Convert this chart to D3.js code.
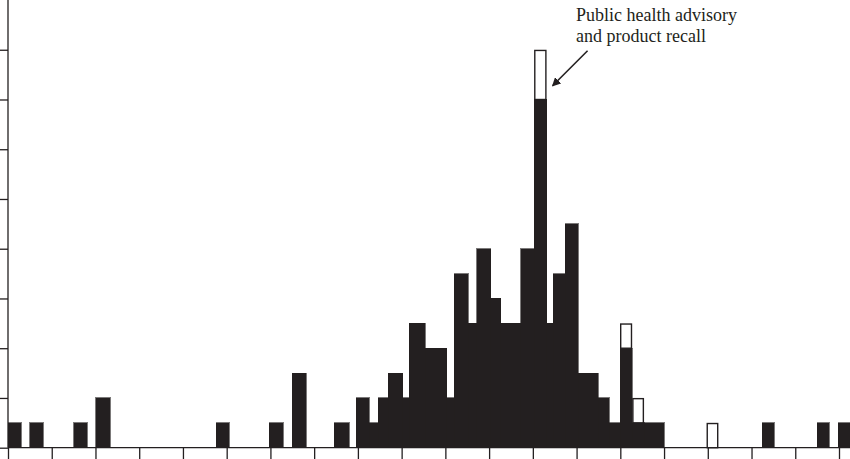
<!DOCTYPE html>
<html>
<head>
<meta charset="utf-8">
<script src="https://cdn.jsdelivr.net/npm/d3@7"></script>
<style>
  html, body { margin: 0; padding: 0; background: #fff; overflow: hidden; }
  svg { display: block; }
</style>
</head>
<body>
<svg id="chart"></svg>
<script>
/* Data (days since first tick) */

// Start and end of each bar, in days
var binStart = [0, 3.5, 10.55, 14.05, 33.3, 41.8, 45.5, 52.2, 55.7, 57.85, 59.25, 60.85,
    63.15, 64.25, 66.75, 70.2, 71.4, 73.65, 75, 77.3, 78.85, 82.05, 84.2, 86.2,
    87.25, 89.15, 91.25, 94.5, 96.25, 97.95, 99.9, 101.8, 111.8, 120.7, 129.5, 132.85];
var binEnd = [2.1, 5.65, 12.7, 16.35, 35.4, 44.05, 47.7, 54.6, 57.85, 59.25, 60.85, 63.15,
    64.25, 66.75, 70.2, 71.4, 73.65, 75, 77.3, 78.85, 82.05, 84.2, 86.2, 87.25,
    89.15, 91.25, 94.5, 96.25, 97.95, 99.9, 101.8, 105, 113.7, 122.65, 131.45, 134.9];
// Cases per bar (black)
var cases = [1, 1, 1, 2, 1, 1, 3, 1, 2, 1, 2, 3,
    2, 5, 4, 2, 7, 5, 8, 6, 5, 8, 14, 5,
    7, 9, 3, 2, 1, 4, 1, 1, 0, 1, 1, 1];
// Additional cases per bar (white, stacked on top)
var extraCases = [0, 0, 0, 0, 0, 0, 0, 0, 0, 0, 0, 0,
    0, 0, 0, 0, 0, 0, 0, 0, 0, 0, 2, 0,
    0, 0, 0, 0, 0, 1, 1, 0, 1, 0, 0, 0];

// Weekly ticks on the x axis, every 2 cases on the y axis
var xTicks = [0, 7, 14, 21, 28, 35, 42, 49, 56, 63, 70, 77, 84, 91, 98, 105, 112, 119, 126, 133];
var yTicks = [0, 2, 4, 6, 8, 10, 12, 14, 16];

var noteLines = ["Public health advisory", "and product recall"];
var noteBar = 22; // bar the note points at


/* Setup */

var width = 850,
    height = 459,
    ink = '#231f20';

var svg = d3.select("#chart")
    .attr("width", width)
    .attr("height", height);

var x = d3.scaleLinear().domain([0, 133]).range([8, 839]);
var y = d3.scaleLinear().domain([0, 18]).range([447.7, 0]);

var bars = binStart.map(function(s, i) {
    return { start: s, end: binEnd[i], cases: cases[i], extra: extraCases[i] };
});


/* Bars */

// crisp edges so neighbouring bars merge without seams
svg.append("g")
    .attr("shape-rendering", "crispEdges")
    .selectAll("rect")
    .data(bars.filter(function(d) { return d.cases > 0; }))
    .enter().append("rect")
    .attr("x", function(d) { return x(d.start); })
    .attr("width", function(d) { return x(d.end) - x(d.start); })
    .attr("y", function(d) { return y(d.cases); })
    .attr("height", function(d) { return y(0) - y(d.cases); })
    .style("fill", ink)
    .style("stroke", ink)
    .style("stroke-width", 0.6);

svg.append("g").selectAll("rect")
    .data(bars.filter(function(d) { return d.extra > 0; }))
    .enter().append("rect")
    .attr("x", function(d) { return x(d.start) + 0.7; })
    .attr("width", function(d) { return x(d.end) - x(d.start) - 1.4; })
    .attr("y", function(d) { return y(d.cases + d.extra) + 0.7; })
    .attr("height", function(d) { return y(d.cases) - y(d.cases + d.extra) - 0.7; })
    .style("fill", "#fff")
    .style("stroke", ink)
    .style("stroke-width", 1.4);


/* Axes */

var xAxis = svg.append("g")
    .attr("transform", "translate(0," + y(0) + ")")
    .call(d3.axisBottom(x).tickValues(xTicks).tickSize(14).tickFormat(""));
xAxis.select(".domain").remove();
xAxis.append("line")
    .attr("x1", x(0)).attr("x2", width)
    .style("stroke", ink)
    .style("stroke-width", 1.3);

var yAxis = svg.append("g")
    .attr("transform", "translate(" + x(0) + ",0)")
    .call(d3.axisLeft(y).tickValues(yTicks).tickSize(12).tickFormat(""));
yAxis.select(".domain").remove();
yAxis.append("line")
    .attr("y1", 0).attr("y2", y(0))
    .style("stroke", ink)
    .style("stroke-width", 1.3);

svg.selectAll(".tick line")
    .style("stroke", ink)
    .style("stroke-width", 1.3);


/* Annotation */

var peak = bars[noteBar];

svg.append("defs").append("marker")
    .attr("id", "head")
    .attr("viewBox", "0 0 10 10")
    .attr("refX", 9).attr("refY", 5)
    .attr("markerWidth", 5.5).attr("markerHeight", 5.5)
    .attr("orient", "auto")
    .append("path")
    .attr("d", "M0,0L10,5L0,10Z")
    .style("fill", ink);

svg.append("line")
    .attr("x1", x(peak.end) + 41)
    .attr("y1", y(peak.cases + peak.extra) + 1)
    .attr("x2", x(peak.end) + 6)
    .attr("y2", y(peak.cases + peak.extra - 1.45))
    .style("stroke", ink)
    .style("stroke-width", 1.6)
    .attr("marker-end", "url(#head)");

svg.append("text")
    .attr("x", 576)
    .attr("y", 20.7)
    .style("font-family", "'Liberation Serif', 'DejaVu Serif', serif")
    .style("font-size", "18px")
    .style("fill", ink)
    .selectAll("tspan")
    .data(noteLines)
    .enter().append("tspan")
    .attr("x", 576)
    .attr("dy", function(d, i) { return i ? 21 : 0; })
    .text(function(d) { return d; });
</script>
</body>
</html>
